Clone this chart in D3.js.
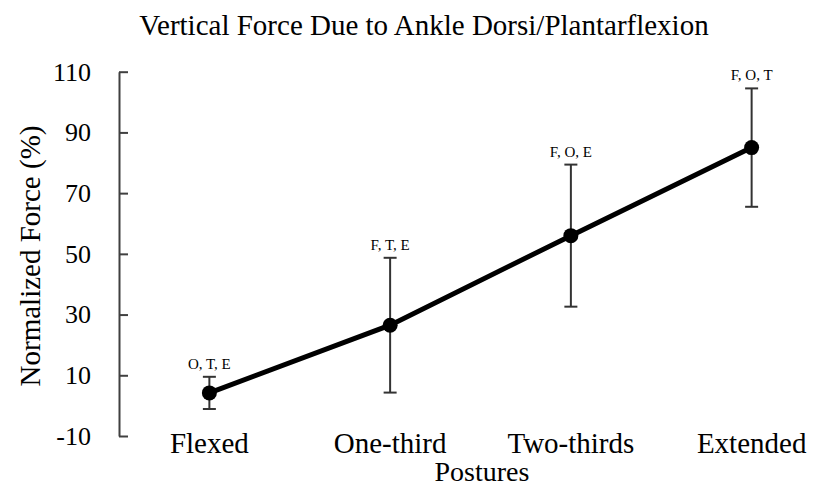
<!DOCTYPE html>
<html>
<head>
<meta charset="utf-8">
<script src="https://cdn.jsdelivr.net/npm/d3@7"></script>
<style>
  body { margin: 0; background: #fff; }
  svg text { font-family: "Liberation Serif", "Times New Roman", serif; fill: #000; }
</style>
</head>
<body>
<script>
var width = 814,
    height = 488;

var postures = ["Flexed", "One-third", "Two-thirds", "Extended"];
var meanForce = [4.2, 26.5, 56, 85];
var sdForce = [5.3, 22.2, 23.4, 19.5];
var sigLabels = ["O, T, E", "F, T, E", "F, O, E", "F, O, T"];
var yTicks = [-10, 10, 30, 50, 70, 90, 110];

var data = postures.map(function (p, i) {
    return { posture: p, mean: meanForce[i], sd: sdForce[i], sig: sigLabels[i] };
});

var x = d3.scaleBand()
    .domain(postures)
    .range([119, 842]);

var y = d3.scaleLinear()
    .domain([-10, 110])
    .range([436, 71.7]);

var svg = d3.select("body").append("svg")
    .attr("width", width)
    .attr("height", height);

// title
svg.append("text")
    .attr("x", 424)
    .attr("y", 35)
    .attr("text-anchor", "middle")
    .style("font-size", "29px")
    .text("Vertical Force Due to Ankle Dorsi/Plantarflexion");

// y axis, ticks pointing inward
var yAxis = d3.axisLeft(y)
    .tickValues(yTicks)
    .tickFormat(function (d) { return String(d); })
    .tickSizeInner(-9)
    .tickSizeOuter(0)
    .tickPadding(28);

var gy = svg.append("g")
    .attr("transform", "translate(119,0)")
    .call(yAxis);

gy.select(".domain").attr("stroke", "#404040").attr("stroke-width", 2);
gy.selectAll(".tick line").attr("stroke", "#404040").attr("stroke-width", 2);
gy.selectAll(".tick text")
    .style("font-size", "26px")
    .style("font-family", "'Liberation Serif', 'Times New Roman', serif")
    .attr("fill", "#000");

// category labels, no axis line
var xAxis = d3.axisBottom(x).tickSize(0).tickPadding(0);
var gx = svg.append("g")
    .attr("transform", "translate(0,436)")
    .call(xAxis);
gx.select(".domain").remove();
gx.selectAll(".tick text")
    .attr("y", 17)
    .attr("dy", 0)
    .style("font-size", "29px")
    .style("font-family", "'Liberation Serif', 'Times New Roman', serif")
    .attr("fill", "#000");

// axis titles
svg.append("text")
    .attr("transform", "translate(40,256) rotate(-90)")
    .attr("text-anchor", "middle")
    .style("font-size", "29px")
    .text("Normalized Force (%)");

svg.append("text")
    .attr("x", 482)
    .attr("y", 481)
    .attr("text-anchor", "middle")
    .style("font-size", "28px")
    .text("Postures");

var cx = function (d) { return x(d.posture) + x.bandwidth() / 2; };

// error bars
var err = svg.append("g")
    .attr("stroke", "#333")
    .attr("stroke-width", 2);

err.selectAll(".bar")
    .data(data)
    .enter().append("line")
    .attr("x1", cx).attr("x2", cx)
    .attr("y1", function (d) { return y(d.mean + d.sd); })
    .attr("y2", function (d) { return y(d.mean - d.sd); });

err.selectAll(".capTop")
    .data(data)
    .enter().append("line")
    .attr("x1", function (d) { return cx(d) - 6.5; })
    .attr("x2", function (d) { return cx(d) + 6.5; })
    .attr("y1", function (d) { return y(d.mean + d.sd); })
    .attr("y2", function (d) { return y(d.mean + d.sd); });

err.selectAll(".capBottom")
    .data(data)
    .enter().append("line")
    .attr("x1", function (d) { return cx(d) - 6.5; })
    .attr("x2", function (d) { return cx(d) + 6.5; })
    .attr("y1", function (d) { return y(d.mean - d.sd); })
    .attr("y2", function (d) { return y(d.mean - d.sd); });

// mean line
var line = d3.line()
    .x(cx)
    .y(function (d) { return y(d.mean); });

svg.append("path")
    .datum(data)
    .attr("d", line)
    .attr("fill", "none")
    .attr("stroke", "#000")
    .attr("stroke-width", 5);

svg.selectAll(".pt")
    .data(data)
    .enter().append("circle")
    .attr("cx", cx)
    .attr("cy", function (d) { return y(d.mean); })
    .attr("r", 7.5)
    .attr("fill", "#000");

// significance labels
svg.selectAll(".sig")
    .data(data)
    .enter().append("text")
    .attr("x", cx)
    .attr("y", function (d) { return y(d.mean + d.sd) - 8; })
    .attr("text-anchor", "middle")
    .style("font-size", "15px")
    .text(function (d) { return d.sig; });
</script>
</body>
</html>
